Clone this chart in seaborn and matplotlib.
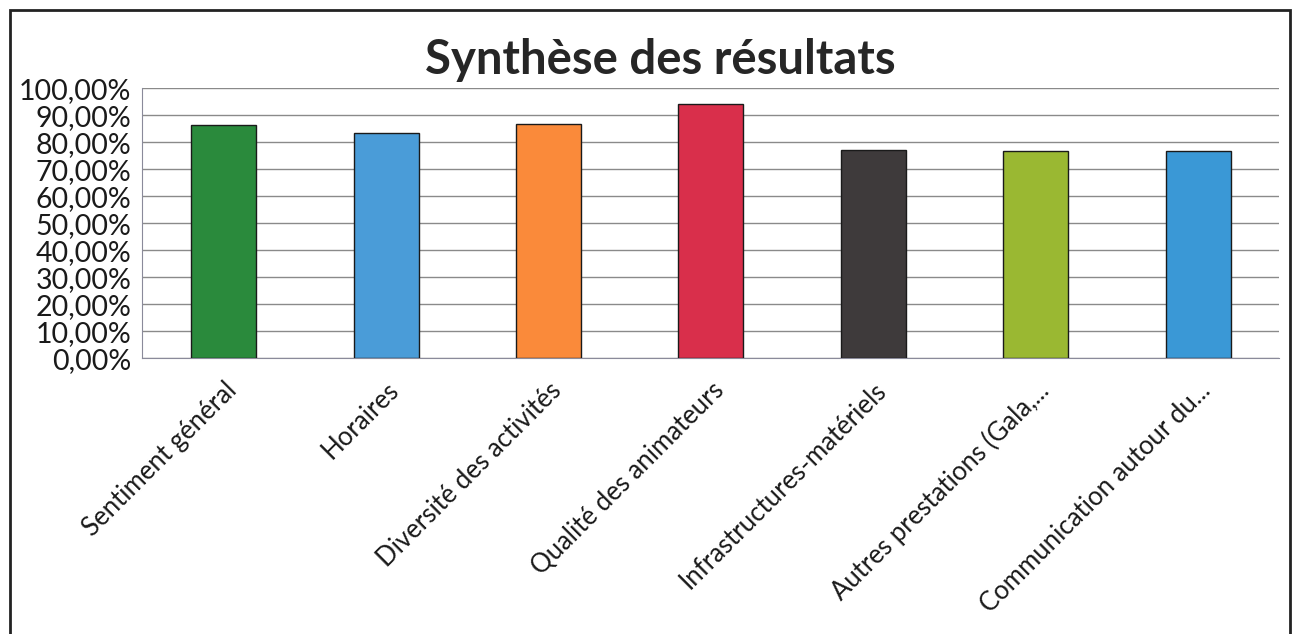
import matplotlib
matplotlib.use("Agg")
import matplotlib.pyplot as plt
import matplotlib.ticker as mticker
from matplotlib.patches import Rectangle
import seaborn as sns
import pandas as pd

# data
categories = ["Sentiment général", "Horaires", "Diversité des activités",
              "Qualité des animateurs", "Infrastructures-matériels",
              "Autres prestations (Gala,...", "Communication autour du..."]
scores = [0.863, 0.835, 0.866, 0.940, 0.770, 0.767, 0.767]
bar_colors = ["#2A8A3C", "#4A9CD8", "#FA8A3A", "#D92F4B", "#3E3A3B", "#9AB832", "#3A98D6"]

df = pd.DataFrame({"categorie": categories, "score": scores})

sns.set_style("white")
plt.rcParams["font.family"] = ["Lato", "DejaVu Sans"]

fig = plt.figure(figsize=(12.95, 6.34), dpi=100)
ax = fig.add_axes([0.110, 0.435, 0.878, 0.426])

sns.barplot(data=df, x="categorie", y="score", hue="categorie",
            palette=bar_colors, legend=False, width=0.40, saturation=1,
            edgecolor="#1a1a1a", linewidth=1.0, ax=ax, zorder=3)

ax.set_ylim(0, 1.0)
ax.set_xlim(-0.5, len(categories) - 0.5)
ax.yaxis.set_major_locator(mticker.MultipleLocator(0.1))
ax.yaxis.set_major_formatter(mticker.FuncFormatter(lambda v, p: f"{v*100:.2f}%".replace(".", ",")))
ax.grid(axis="y", color="#8a8a8a", linewidth=1.0, zorder=0)
ax.set_axisbelow(True)

for s in ["top", "right"]:
    ax.spines[s].set_visible(False)
ax.spines["left"].set_color("#8a8a9a")
ax.spines["bottom"].set_color("#8a8a9a")

# category ticks sit between bars, like the spreadsheet chart
ax.set_xticks(range(len(categories)))
ax.set_xticklabels(categories, rotation=45, ha="right", rotation_mode="anchor", fontsize=18.5)
ax.tick_params(axis="x", which="major", length=0, pad=14)
ax.set_xticks([i - 0.5 for i in range(len(categories) + 1)], minor=True)
ax.tick_params(axis="x", which="minor", length=9, color="#8a8a9a", direction="out")
ax.tick_params(axis="y", length=6, color="#8a8a9a", direction="out", labelsize=20.5, pad=2)
for lab in ax.get_yticklabels():
    lab.set_color("#1a1a1a")
for lab in ax.get_xticklabels():
    lab.set_color("#1a1a1a")
ax.set_xlabel("")
ax.set_ylabel("")

fig.text(0.51, 0.905, "Synthèse des résultats", ha="center", va="center",
         fontsize=34, fontweight="bold", color="#262626")

# outer chart frame
fig.patches.append(Rectangle((0.008, -0.02), 0.988, 1.004, transform=fig.transFigure,
                             fill=False, edgecolor="#222222", linewidth=2))

fig.savefig("out.png", dpi=100)
